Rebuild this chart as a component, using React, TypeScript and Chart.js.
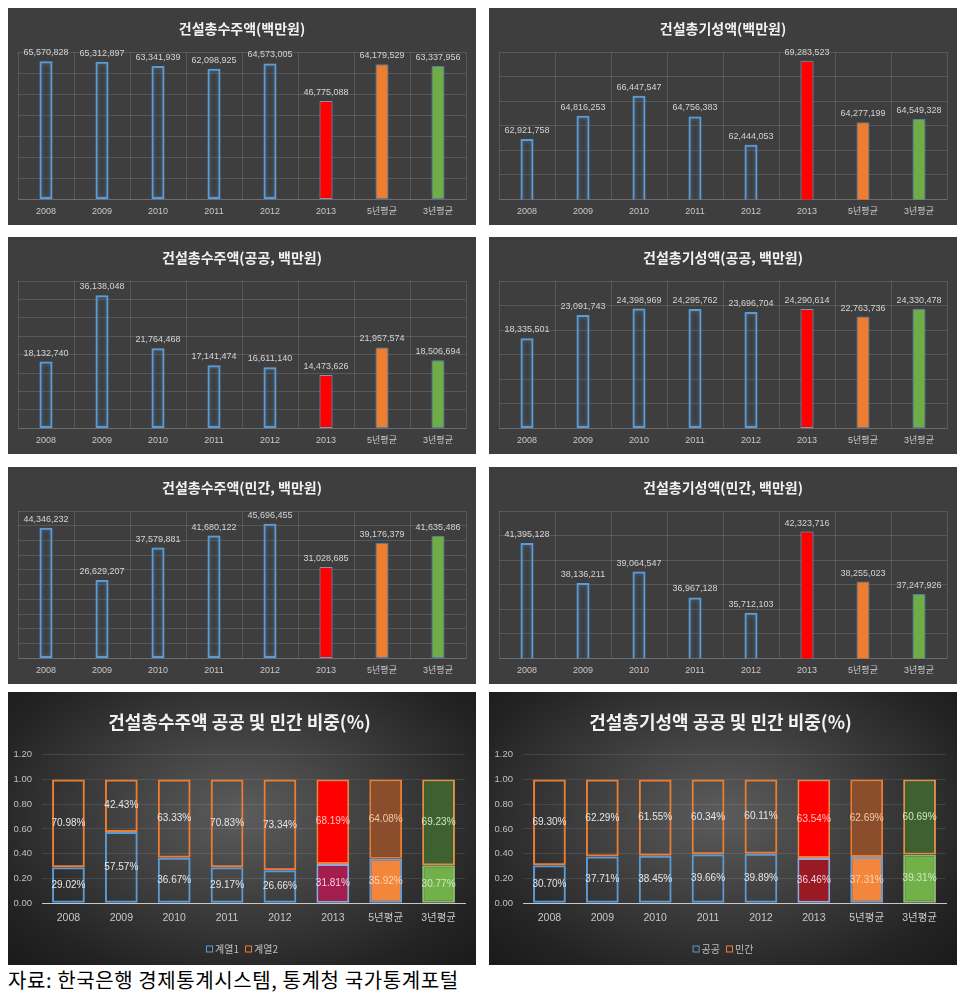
import React, { useEffect, useRef } from "react";
import { Chart, registerables } from "chart.js";

Chart.register(...registerables);

// ---------- data ----------
const categories = ["2008", "2009", "2010", "2011", "2012", "2013", "5년평균", "3년평균"];

const ordersTotal = [65570828, 65312897, 63341939, 62098925, 64573005, 46775088, 64179529, 63337956];
const completedTotal = [62921758, 64816253, 66447547, 64756383, 62444053, 69283523, 64277199, 64549328];
const ordersPublic = [18132740, 36138048, 21764468, 17141474, 16611140, 14473626, 21957574, 18506694];
const completedPublic = [18335501, 23091743, 24398969, 24295762, 23696704, 24290614, 22763736, 24330478];
const ordersPrivate = [44346232, 26629207, 37579881, 41680122, 45696455, 31028685, 39176379, 41635486];
const completedPrivate = [41395128, 38136211, 39064547, 36967128, 35712103, 42323716, 38255023, 37247926];

const ordersSharePublic = [0.2902, 0.5757, 0.3667, 0.2917, 0.2666, 0.3181, 0.3592, 0.3077];
const ordersSharePrivate = [0.7098, 0.4243, 0.6333, 0.7083, 0.7334, 0.6819, 0.6408, 0.6923];
const completedSharePublic = [0.307, 0.3771, 0.3845, 0.3966, 0.3989, 0.3646, 0.3731, 0.3931];
const completedSharePrivate = [0.693, 0.6229, 0.6155, 0.6034, 0.6011, 0.6354, 0.6269, 0.6069];

const shareTicks = [0, 0.2, 0.4, 0.6, 0.8, 1.0, 1.2];

const titles = {
  p1: "건설총수주액(백만원)",
  p2: "건설총기성액(백만원)",
  p3: "건설총수주액(공공, 백만원)",
  p4: "건설총기성액(공공, 백만원)",
  p5: "건설총수주액(민간, 백만원)",
  p6: "건설총기성액(민간, 백만원)",
  p7: "건설총수주액 공공 및 민간 비중(%)",
  p8: "건설총기성액 공공 및 민간 비중(%)",
};
const legend7 = ["계열1", "계열2"];
const legend8 = ["공공", "민간"];
const caption = "자료: 한국은행 경제통계시스템, 통계청 국가통계포털";

// ---------- styles ----------
const KFONT = "'Noto Sans CJK KR', sans-serif";
const NFONT = "'Liberation Sans Narrow', 'Liberation Sans', 'Noto Sans CJK KR', sans-serif";
const PANEL_BG = "#3e3e3e";
const GRID = "rgba(255,255,255,0.13)";
const BLUE = "#5B9BD5";
const ORANGE = "#ED7D31";

const topFills = ["rgba(0,0,0,0)", "rgba(0,0,0,0)", "rgba(0,0,0,0)", "rgba(0,0,0,0)", "rgba(0,0,0,0)", "#FF0000", "#ED7D31", "#70AD47"];
const topBorders = [BLUE, BLUE, BLUE, BLUE, BLUE, "rgba(150,170,210,0.8)", "rgba(91,155,213,0.6)", "rgba(91,155,213,0.6)"];
const topBorderWidths = [2, 2, 2, 2, 2, 1, 1, 1];

const fmt = (v: number) => v.toLocaleString("en-US");

const topPlugin = {
  id: "topGlowLabels",
  beforeDatasetsDraw(chart: any) {
    const ctx = chart.ctx;
    ctx.save();
    ctx.shadowColor = "rgba(91,155,213,0.55)";
    ctx.shadowBlur = 4;
  },
  afterDatasetsDraw(chart: any) {
    const ctx = chart.ctx;
    ctx.restore();
    const meta = chart.getDatasetMeta(0);
    const data = chart.data.datasets[0].data as number[];
    ctx.save();
    ctx.font = `9px ${NFONT}`;
    ctx.fillStyle = "#d4d4d4";
    ctx.textAlign = "center";
    ctx.textBaseline = "bottom";
    meta.data.forEach((bar: any, i: number) => {
      ctx.fillText(fmt(data[i]), bar.x, bar.y - 4);
    });
    ctx.restore();
  },
};

type BarProps = { title: string; values: number[]; min: number; max: number; step: number; left: number; top: number };

function BarPanel({ title, values, min, max, step, left, top }: BarProps) {
  const ref = useRef<HTMLCanvasElement>(null);
  useEffect(() => {
    const chart = new Chart(ref.current as HTMLCanvasElement, {
      type: "bar",
      data: {
        labels: categories,
        datasets: [
          {
            data: values,
            backgroundColor: topFills,
            borderColor: topBorders,
            borderWidth: topBorderWidths,
            borderSkipped: false,
            barPercentage: 0.232,
            categoryPercentage: 1,
          },
        ],
      },
      options: {
        responsive: false,
        animation: false,
        layout: { padding: { left: 10, right: 10, top: 0, bottom: 1.6 } },
        plugins: {
          legend: { display: false },
          tooltip: { enabled: false },
          title: {
            display: true,
            text: title,
            color: "#f2f2f2",
            font: { family: KFONT, size: 14, weight: "bold" },
            padding: { top: 12, bottom: 15.2 },
          },
        },
        scales: {
          x: {
            grid: { color: GRID, drawTicks: false, offset: true },
            border: { display: true, color: GRID },
            ticks: { color: "#c8c8c8", font: { family: NFONT, size: 9 }, padding: 6.6, maxRotation: 0, autoSkip: false },
          },
          y: {
            min,
            max,
            ticks: { display: false, stepSize: step },
            grid: { color: GRID, drawTicks: false },
            border: { display: false },
          },
        },
      } as any,
      plugins: [topPlugin],
    });
    return () => chart.destroy();
  }, []);
  return (
    <div style={{ position: "absolute", left, top, width: 468, height: 217, background: PANEL_BG }}>
      <canvas ref={ref} width={468} height={217} style={{ display: "block" }} />
    </div>
  );
}

type ShareProps = {
  title: string;
  pub: number[];
  priv: number[];
  legend: string[];
  pubFills: string[];
  privFills: string[];
  left: number;
  top: number;
};

const pubBorders = [BLUE, BLUE, BLUE, BLUE, BLUE, "#8FA9D8", "#6D9FD6", "#8DB870"];
const privBorders = [ORANGE, ORANGE, ORANGE, ORANGE, ORANGE, "#F08040", ORANGE, "#E09040"];
const pubLabelColors = ["#e6e6e6", "#e6e6e6", "#e6e6e6", "#e6e6e6", "#e6e6e6", "#F6D0E0", "#FBD5B5", "#CFE8BF"];
const privLabelColors = ["#e6e6e6", "#e6e6e6", "#e6e6e6", "#e6e6e6", "#e6e6e6", "#FFC0C0", "#F4C8A8", "#D0E8C0"];

const sharePlugin = {
  id: "shareLabelsLegend",
  afterDatasetsDraw(chart: any) {
    const ctx = chart.ctx;
    ctx.save();
    ctx.font = `10px ${NFONT}`;
    ctx.textAlign = "center";
    ctx.textBaseline = "middle";
    [0, 1].forEach((d) => {
      const meta = chart.getDatasetMeta(d);
      const data = chart.data.datasets[d].data as number[];
      const colors = d === 0 ? pubLabelColors : privLabelColors;
      meta.data.forEach((bar: any, i: number) => {
        ctx.fillStyle = colors[i];
        ctx.fillText((data[i] * 100).toFixed(2) + "%", bar.x, (bar.y + bar.base) / 2);
      });
    });
    ctx.restore();
  },
  afterDraw(chart: any) {
    const ctx = chart.ctx;
    const names = chart.data.datasets.map((d: any) => d.label as string);
    const cols = [BLUE, ORANGE];
    ctx.save();
    ctx.font = `10px ${KFONT}`;
    ctx.textBaseline = "middle";
    ctx.textAlign = "left";
    const box = 7;
    const gap = 2;
    const itemGap = 6;
    const widths = names.map((n: string) => box + gap + ctx.measureText(n).width);
    const total = widths.reduce((a: number, b: number) => a + b, 0) + itemGap * (names.length - 1);
    let x = chart.width / 2 - total / 2;
    const y = 257;
    names.forEach((n: string, i: number) => {
      ctx.strokeStyle = cols[i];
      ctx.lineWidth = 1;
      ctx.strokeRect(x + 0.5, y - box / 2 + 0.5, box - 1, box - 1);
      ctx.fillStyle = "#bfbfbf";
      ctx.fillText(n, x + box + gap, y);
      x += widths[i] + itemGap;
    });
    ctx.restore();
  },
};

function SharePanel({ title, pub, priv, legend, pubFills, privFills, left, top }: ShareProps) {
  const ref = useRef<HTMLCanvasElement>(null);
  useEffect(() => {
    const chart = new Chart(ref.current as HTMLCanvasElement, {
      type: "bar",
      data: {
        labels: categories,
        datasets: [
          {
            label: legend[0],
            data: pub,
            backgroundColor: pubFills,
            borderColor: pubBorders,
            borderWidth: 2,
            borderSkipped: false,
            barPercentage: 0.62,
            categoryPercentage: 1,
          },
          {
            label: legend[1],
            data: priv,
            backgroundColor: privFills,
            borderColor: privBorders,
            borderWidth: 2,
            borderSkipped: false,
            barPercentage: 0.62,
            categoryPercentage: 1,
          },
        ],
      },
      options: {
        responsive: false,
        animation: false,
        layout: { padding: { left: 6, right: 11, top: 0, bottom: 39.7 } },
        plugins: {
          legend: { display: false },
          tooltip: { enabled: false },
          title: {
            display: true,
            text: title,
            color: "#f2f2f2",
            font: { family: KFONT, size: 18, weight: "bold" },
            padding: { top: 19, bottom: 22 },
          },
        },
        scales: {
          x: {
            stacked: true,
            grid: { display: false },
            border: { display: true, color: "#c8c8c8", width: 1 },
            ticks: { color: "#c8c8c8", font: { family: NFONT, size: 10.5 }, padding: 0.7, maxRotation: 0, autoSkip: false },
          },
          y: {
            stacked: true,
            min: 0,
            max: 1.2,
            afterBuildTicks: (axis: any) => {
              axis.ticks = shareTicks.map((v) => ({ value: v }));
            },
            afterFit: (axis: any) => {
              axis.width = 28;
            },
            ticks: {
              color: "#c0c0c0",
              font: { family: NFONT, size: 9.5 },
              padding: 10,
              callback: (v: any) => Number(v).toFixed(2),
            },
            grid: { color: "rgba(255,255,255,0.1)", drawTicks: false },
            border: { display: false },
          },
        },
      } as any,
      plugins: [sharePlugin],
    });
    return () => chart.destroy();
  }, []);
  return (
    <div
      style={{
        position: "absolute",
        left,
        top,
        width: 468,
        height: 273,
        background: "radial-gradient(ellipse at 50% 45%, #5c5c5c 0%, #3c3c3c 45%, #232323 80%, #1a1a1a 100%)",
      }}
    >
      <canvas ref={ref} width={468} height={273} style={{ display: "block" }} />
    </div>
  );
}

const T = "rgba(0,0,0,0)";
const pubFills7 = [T, T, T, T, T, "#A31D4E", "#F4863B", "#72B04A"];
const privFills7 = [T, T, T, T, T, "#FF0000", "#8A4E2C", "#3F6030"];
const pubFills8 = [T, T, T, T, T, "#9A1A24", "#F4863B", "#72B04A"];
const privFills8 = [T, T, T, T, T, "#FF0000", "#8A4E2C", "#3F6030"];

export default function App() {
  return (
    <div style={{ position: "absolute", left: 0, top: 0, width: 970, height: 997, background: "#fff" }}>
      <BarPanel title={titles.p1} values={ordersTotal} min={0} max={70000000} step={10000000} left={8} top={8} />
      <BarPanel title={titles.p2} values={completedTotal} min={58000000} max={70000000} step={2000000} left={489} top={8} />
      <BarPanel title={titles.p3} values={ordersPublic} min={0} max={40000000} step={5000000} left={8} top={237} />
      <BarPanel title={titles.p4} values={completedPublic} min={0} max={30000000} step={5000000} left={489} top={237} />
      <BarPanel title={titles.p5} values={ordersPrivate} min={0} max={50000000} step={5000000} left={8} top={467} />
      <BarPanel title={titles.p6} values={completedPrivate} min={32000000} max={44000000} step={2000000} left={489} top={467} />
      <SharePanel
        title={titles.p7}
        pub={ordersSharePublic}
        priv={ordersSharePrivate}
        legend={legend7}
        pubFills={pubFills7}
        privFills={privFills7}
        left={8}
        top={692}
      />
      <SharePanel
        title={titles.p8}
        pub={completedSharePublic}
        priv={completedSharePrivate}
        legend={legend8}
        pubFills={pubFills8}
        privFills={privFills8}
        left={489}
        top={692}
      />
      <div
        style={{
          position: "absolute",
          left: 8,
          top: 970,
          fontFamily: KFONT,
          fontSize: 20,
          lineHeight: "20px",
          letterSpacing: "0.6px",
          color: "#000",
          whiteSpace: "nowrap",
        }}
      >
        {caption}
      </div>
    </div>
  );
}
